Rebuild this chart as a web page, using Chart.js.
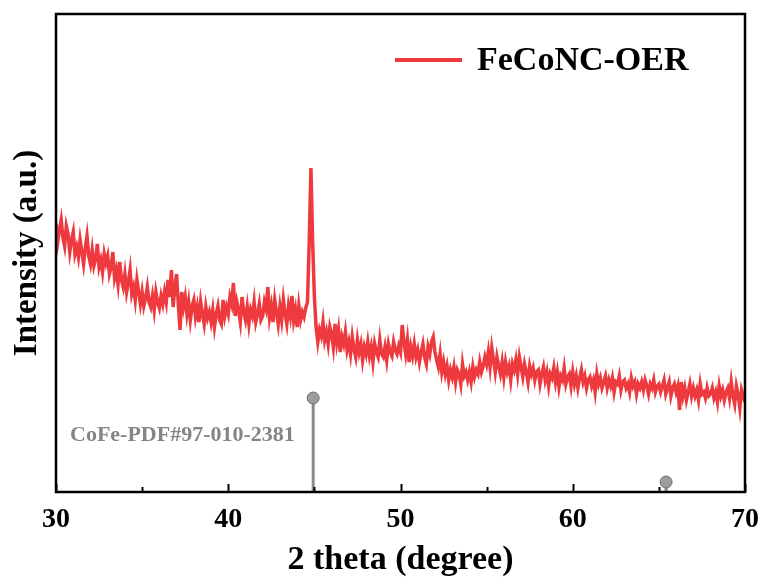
<!DOCTYPE html>
<html>
<head>
<meta charset="utf-8">
<script src="https://cdn.jsdelivr.net/npm/chart.js@4/dist/chart.umd.min.js"></script>
<style>
  html, body { margin: 0; padding: 0; background: #fff; }
  #wrap { width: 763px; height: 584px; position: relative; }
</style>
</head>
<body>
<div id="wrap"><canvas id="c" width="763" height="584"></canvas></div>
<script>
// ---- data ----
const seriesName = 'FeCoNC-OER';
const thetaStart = 30;
const thetaStep = 0.1;
const intensity = [
  268, 250, 262, 272, 255, 246, 266, 258, 240, 252,
  260, 238, 245, 235, 252, 240, 228, 244, 256, 236,
  228, 242, 226, 233, 248, 225, 232, 220, 238, 229,
  236, 218, 225, 240, 214, 222, 208, 230, 212, 205,
  218, 200, 210, 222, 198, 205, 192, 212, 200, 188,
  200, 186, 194, 205, 190, 185, 196, 182, 200, 190,
  184, 196, 188, 200, 190, 212, 195, 222, 185, 205,
  218, 188, 162, 200, 185, 195, 178, 190, 172, 186,
  192, 175, 185, 170, 190, 178, 168, 185, 174, 180,
  170, 182, 165, 178, 186, 172, 168, 192, 176, 185,
  178, 195, 188, 209, 176, 190, 182, 170, 195, 180,
  172, 185, 168, 182, 176, 190, 170, 178, 188, 172,
  176, 190, 183, 205, 175, 186, 170, 192, 180, 168,
  185, 172, 192, 178, 168, 186, 176, 196, 172, 182,
  165, 186, 172, 180, 175, 184, 190, 250, 324, 250,
  195, 165, 150, 162, 156, 170, 152, 160, 148, 165,
  158, 145, 168, 150, 162, 140, 155, 148, 160, 142,
  150, 138, 155, 143, 135, 152, 140, 148, 132, 145,
  138, 150, 136, 145, 130, 148, 140, 135, 152, 138,
  135, 145, 132, 148, 140, 136, 150, 142, 138, 146,
  140, 167, 150, 138, 152, 130, 145, 136, 148, 135,
  142, 130, 140, 148, 135, 128, 145, 138, 150, 155,
  140, 132, 125, 138, 120, 130, 118, 126, 112, 122,
  115, 125, 110, 122, 118, 108, 128, 116, 120, 112,
  120, 110, 125, 115, 122, 118, 130, 120, 126, 135,
  128, 140, 125, 144, 132, 120, 135, 126, 118, 130,
  115, 130, 120, 126, 112, 128, 122, 132, 118, 135,
  125, 115, 128, 120, 110, 126, 118, 124, 112, 120,
  122, 108, 118, 125, 112, 120, 106, 118, 114, 124,
  110, 120, 105, 116, 112, 124, 108, 115, 118, 106,
  120, 108, 116, 104, 114, 122, 110, 116, 104, 112,
  115, 106, 112, 100, 118, 108, 114, 104, 110, 116,
  104, 112, 106, 114, 100, 110, 108, 116, 102, 110,
  112, 104, 108, 100, 114, 106, 110, 98, 108, 104,
  110, 102, 112, 106, 98, 108, 104, 112, 100, 106,
  108, 100, 106, 112, 98, 104, 110, 96, 104, 108,
  100, 106, 82, 110, 96, 104, 92, 100, 108, 96,
  104, 96, 102, 92, 108, 98, 100, 94, 104, 96,
  98, 104, 94, 100, 90, 106, 96, 102, 92, 100,
  104, 94, 110, 96, 88, 106, 98, 84, 102, 96,
  90
];
const refName = 'CoFe-PDF#97-010-2381';
const refTheta = [44.93, 65.42];
const refHeight = [94, 10];
const xMajorTicks = [30, 40, 50, 60, 70];
const xMinorTicks = [35, 45, 55, 65];
const xTitle = '2 theta (degree)';
const yTitle = 'Intensity (a.u.)';

// ---- build library data ----
const mainData = intensity.map((v, i) => ({ x: +(thetaStart + i * thetaStep).toFixed(2), y: v }));
const stemData = [];
refTheta.forEach((t, i) => {
  if (i > 0) stemData.push({ x: t, y: null });
  stemData.push({ x: t, y: 0 });
  stemData.push({ x: t, y: refHeight[i] });
});
const ballData = refTheta.map((t, i) => ({ x: t, y: refHeight[i] }));

const SERIF = '"Liberation Serif", "Times New Roman", serif';
const RED = '#ee3a3e';

const decor = {
  id: 'decor',
  afterDraw(chart) {
    const ctx = chart.ctx;
    const a = chart.chartArea;
    const xs = chart.scales.x;
    ctx.save();
    // inward ticks
    ctx.strokeStyle = '#000';
    ctx.lineWidth = 2;
    xMajorTicks.forEach(t => {
      const px = Math.round(xs.getPixelForValue(t)) + 0.5;
      ctx.beginPath(); ctx.moveTo(px, a.bottom); ctx.lineTo(px, a.bottom - 8); ctx.stroke();
    });
    xMinorTicks.forEach(t => {
      const px = Math.round(xs.getPixelForValue(t)) + 0.5;
      ctx.beginPath(); ctx.moveTo(px, a.bottom); ctx.lineTo(px, a.bottom - 5); ctx.stroke();
    });
    // frame
    ctx.lineWidth = 2.5;
    ctx.strokeRect(a.left, a.top, a.right - a.left, a.bottom - a.top);
    // legend
    ctx.strokeStyle = RED;
    ctx.lineWidth = 4;
    ctx.beginPath(); ctx.moveTo(395, 60); ctx.lineTo(462, 60); ctx.stroke();
    ctx.fillStyle = '#000';
    ctx.font = 'bold 34px ' + SERIF;
    ctx.textBaseline = 'middle';
    ctx.textAlign = 'left';
    ctx.fillText(seriesName, 477, 61);
    // reference annotation
    ctx.fillStyle = '#858585';
    ctx.font = 'bold 22px ' + SERIF;
    ctx.fillText(refName, 70, 435);
    ctx.restore();
  }
};

new Chart(document.getElementById('c'), {
  type: 'line',
  data: {
    datasets: [
      {
        label: seriesName,
        data: mainData,
        borderColor: RED,
        borderWidth: 3.5,
        pointRadius: 0,
        tension: 0,
        order: 1
      },
      {
        label: 'stems',
        data: stemData,
        borderColor: '#8a8a8a',
        borderWidth: 3,
        pointRadius: 0,
        spanGaps: false,
        clip: false,
        order: 2
      },
      {
        type: 'scatter',
        label: 'balls',
        data: ballData,
        pointRadius: 6,
        backgroundColor: '#9c9c9c',
        borderColor: '#6f6f6f',
        borderWidth: 1,
        clip: false,
        order: 0
      }
    ]
  },
  options: {
    responsive: false,
    animation: false,
    layout: { padding: { top: 14, right: 18, left: 0, bottom: 0 } },
    plugins: { legend: { display: false }, tooltip: { enabled: false } },
    scales: {
      x: {
        type: 'linear',
        min: 30, max: 70,
        afterFit(s) { s.height = 92; s.paddingLeft = 0; s.paddingRight = 0; },
        grid: { display: false, drawTicks: false },
        border: { display: false },
        ticks: {
          stepSize: 10,
          padding: 11,
          color: '#000',
          font: { family: SERIF, size: 28, weight: 'bold' }
        },
        title: {
          display: true,
          text: xTitle,
          color: '#000',
          font: { family: SERIF, size: 34, weight: 'bold' },
          padding: { top: 0, bottom: 3 }
        }
      },
      y: {
        min: 0, max: 478,
        afterFit(s) { s.width = 56; s.paddingTop = 0; s.paddingBottom = 0; },
        grid: { display: false, drawTicks: false },
        border: { display: false },
        ticks: { display: false },
        title: {
          display: true,
          text: yTitle,
          color: '#000',
          font: { family: SERIF, size: 33, weight: 'bold' },
          padding: { top: 8, bottom: 0 }
        }
      }
    }
  },
  plugins: [decor]
});
</script>
</body>
</html>
